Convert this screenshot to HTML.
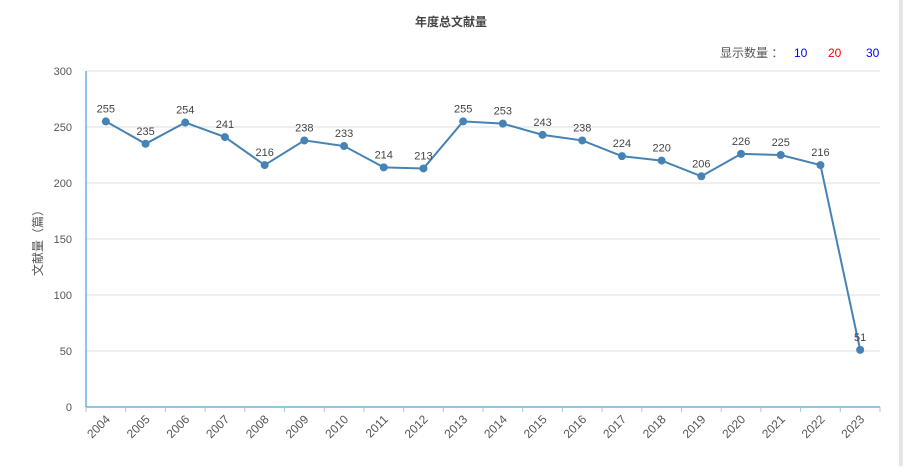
<!DOCTYPE html>
<html><head><meta charset="utf-8"><style>
body{margin:0;background:#fff;width:903px;height:466px;overflow:hidden;font-family:"Liberation Sans","Noto Sans CJK SC",sans-serif}
</style></head><body>
<svg width="903" height="466">
<rect x="899" y="0" width="4" height="466" fill="#e6e6e6"/>
<text x="451" y="26" text-anchor="middle" font-size="12" font-weight="bold" fill="#444">年度总文献量</text>
<g font-size="12">
<text x="720" y="57" fill="#555">显示数量 ：</text>
<text x="794" y="57" fill="#0000ff">10</text>
<text x="828" y="57" fill="#ff0000">20</text>
<text x="866" y="57" fill="#0000ff">30</text>
</g>
<text transform="translate(42,240) rotate(-90)" text-anchor="middle" font-size="12" fill="#555">文献量（篇）</text>
<g id="grid"></g><g id="xax"></g><g id="series"></g>
</svg>
<script>
const categories=["2004","2005","2006","2007","2008","2009","2010","2011","2012","2013","2014","2015","2016","2017","2018","2019","2020","2021","2022","2023"];
const values=[255,235,254,241,216,238,233,214,213,255,253,243,238,224,220,206,226,225,216,51];
const yTicks=[0,50,100,150,200,250,300];
const NS="http://www.w3.org/2000/svg";
const L=86,R=880,T=71,B=407,yMax=300;
const bw=(R-L)/categories.length;
const xs=i=>L+bw*(i+0.5);
const ys=v=>B-(v/yMax)*(B-T);
function mk(t,a,p){const e=document.createElementNS(NS,t);for(const k in a)e.setAttribute(k,a[k]);p.appendChild(e);return e;}
const grid=document.getElementById('grid');
yTicks.forEach(v=>{
 if(v>0){const l=mk('line',{x1:L,x2:R,y1:ys(v),y2:ys(v),stroke:'#dcdcdc'},grid);
 
 }
 const t=mk('text',{x:72,y:ys(v)+4,'text-anchor':'end','font-size':11,fill:'#555'},grid);t.textContent=v;
 
 
});
const xa=document.getElementById('xax');
const ya=mk('line',{x1:L,x2:L,y1:T,y2:B,stroke:'#1e8fc6'},xa);


const xl=mk('line',{x1:L,x2:R,y1:B,y2:B,stroke:'#1e8fc6'},xa);


for(let i=0;i<=categories.length;i++){const tk=mk('line',{x1:L+bw*i,x2:L+bw*i,y1:B,y2:B+5,stroke:'#b0c4de'},xa);
 
 }
categories.forEach((c,i)=>{
 const x=xs(i)+5,y=B+13;
 const t=mk('text',{x:x,y:y,'text-anchor':'end','font-size':12,fill:'#555',transform:`rotate(-45 ${x} ${y})`},xa);t.textContent=c;
 
 
});
const s=document.getElementById('series');
const ln=mk('polyline',{points:values.map((v,i)=>xs(i)+','+ys(v)).join(' '),fill:'none',stroke:'#4682b4','stroke-width':2},s);


values.forEach((v,i)=>{
 const c=mk('circle',{cx:xs(i),cy:ys(v),r:4,fill:'#4682b4'},s);
 
 
 const t=mk('text',{x:xs(i),y:ys(v)-9,'text-anchor':'middle','font-size':11,fill:'#444'},s);t.textContent=v;
 
 
});
</script>
</body></html>
